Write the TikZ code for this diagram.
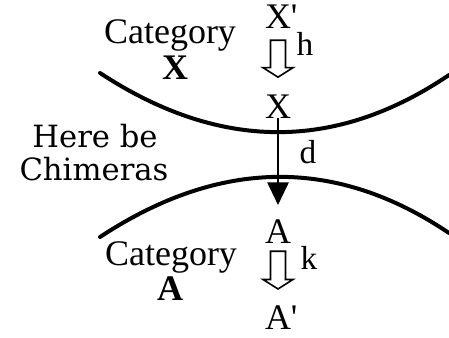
\documentclass[tikz,border=0pt]{standalone}
\usepackage{fontspec}
\setmainfont{Liberation Serif}
\newfontfamily\chimfont{DejaVu Serif}
\usetikzlibrary{arrows.meta,calc}

% hollow block arrow pointing down, from node #1 to node #2
\newcommand{\hollowdown}[4]{%
  \path (#1.south) ++(0,#3) coordinate (htop)
        (#2.north -| #1.south) ++(0,-#4) coordinate (htip);
  \draw[hollow] ($(htop)+(-7.5,0)$) -- ($(htip)+(-7.5,-9.5)$) -- ($(htip)+(-15,-9.5)$)
    -- (htip) -- ($(htip)+(15,-9.5)$) -- ($(htip)+(7.5,-9.5)$) -- ($(htop)+(7.5,0)$) -- cycle;
}

\begin{document}
\begin{tikzpicture}[
      x=0.75pt, y=-0.75pt,
      obj/.style={font=\fontsize{27}{30}\selectfont, inner sep=0pt, anchor=base},
      lbl/.style={font=\fontsize{25}{28}\selectfont, inner sep=0pt, anchor=base},
      chim/.style={font=\chimfont\fontsize{23}{26}\selectfont, inner sep=0pt, anchor=base},
      border/.style={line width=3pt, line cap=round},
      hollow/.style={line width=1.2pt, line join=miter},
      arr/.style={-{Triangle[length=17pt,width=16pt]}, line width=1.5pt}
  ]
    \useasboundingbox (0,0) rectangle (449,337);
    % the two category borders
    \draw[border] (100,73) .. controls (219,151) and (335,152) .. (449,75);
    \draw[border] (100,237) .. controls (220,158) and (336,157) .. (449,233);
    % category names
    \node[obj] (catx) at (170,43) {Category};
    \node[obj] (catxx) at (175,79) {\textbf{X}};
    \node[obj] (cata) at (171,265) {Category};
    \node[obj] (cataa) at (170,300) {\textbf{A}};
    \node[chim] (here) at (95,147) {Here be};
    \node[chim] (chim) at (94,180) {Chimeras};
    % objects
    \node[obj] (Xp) at (278,28) {X\rlap{\textquotesingle}};
    \node[obj] (X) at (278,118) {X};
    \node[obj] (A) at (278,243) {A};
    \node[obj] (Ap) at (278,329) {A\rlap{\textquotesingle}};
    % maps
    \hollowdown{Xp}{X}{12}{17}
    \hollowdown{A}{Ap}{8}{16}
    \draw[arr, shorten >=10.5pt] (X.south) -- (A.north);
    \node[lbl] (h) at (305,55) {h};
    \node[lbl] (d) at (308,163) {d};
    \node[lbl] (k) at (309,269) {k};
  \end{tikzpicture}
\end{document}
